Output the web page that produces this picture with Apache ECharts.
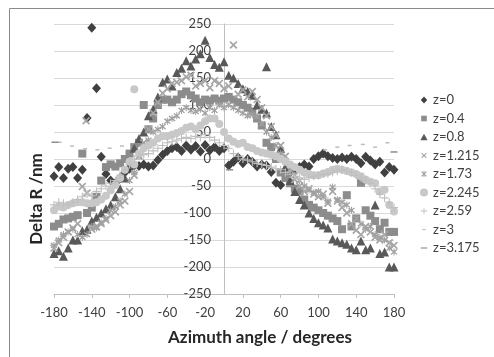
<!DOCTYPE html>
<html>
<head>
<meta charset="utf-8">
<script src="https://cdn.jsdelivr.net/npm/echarts@6/dist/echarts.min.js"></script>
<style>
html,body{margin:0;padding:0;background:#fff;}
#c{width:494px;height:357px;}
</style>
</head>
<body>
<div id="c"></div>
<script>
// Azimuth angles (degrees)
const angles = [-180,-175,-170,-165,-160,-155,-150,-145,-140,-135,-130,-125,-120,-115,-110,-105,-100,-95,-90,-85,-80,-75,-70,-65,-60,-55,-50,-45,-40,-35,-30,-25,-20,-15,-10,-5,0,5,10,15,20,25,30,35,40,45,50,55,60,65,70,75,80,85,90,95,100,105,110,115,120,125,130,135,140,145,150,155,160,165,170,175,180];

const z0 = [-32,-15,-35,-18,-15,-35,-20,76,243,131,4,-28,-40,-45,-35,-25,-18,-12,-13,-10,-14,-12,-2,8,15,20,22,15,25,17,24,14,26,16,22,15,20,-12,-5,3,-8,0,-5,-14,-10,-12,-24,-44,-48,-30,-25,-20,-15,-10,-14,0,5,10,5,2,0,3,0,4,0,-8,4,-3,-10,-5,-25,-15,-20];

const z04 = [-125,-120,-112,-110,-107,-104,10,-100,-90,-70,-40,-15,-10,-14,-8,0,10,22,30,100,55,75,100,110,110,105,110,120,125,118,112,105,110,108,112,108,112,115,110,105,100,95,88,75,62,30,22,0,-25,-35,-45,-55,-60,-75,-85,-90,-95,-100,-105,-110,-115,-130,-67,-125,-110,-44,-95,-105,-115,-130,-118,-135,-135];

const z08 = [-175,-170,-180,-165,-150,-150,-133,-130,-115,-108,-100,-92,-85,-70,-55,-35,-10,20,38,50,80,92,115,142,148,135,160,168,182,172,185,195,220,188,175,170,180,155,150,140,130,125,118,100,92,171,60,45,20,-15,-40,-60,-75,-85,-100,-110,-118,-122,-128,-148,-152,-155,-158,-165,-168,-152,-168,-165,-85,-175,-172,-200,-200];
const z08Extra = [[45, 85]];

const z1215 = [-165,-155,-145,-135,-128,-120,-51,-63,-130,-125,-120,-113,-105,-98,-85,-78,-60,-30,5,30,55,85,105,122,130,140,142,145,152,155,135,140,145,132,145,140,130,135,211,120,128,115,125,110,95,80,60,45,25,5,-20,-38,-50,-60,-55,-65,-70,-65,-82,-60,-78,-90,-100,-120,-132,-140,-125,-135,-145,-150,-140,-155,-160];
const z1215Extra = [[-146, 71]];

const z173 = [-160,-150,-140,-135,-130,-140,-145,-140,-125,-128,-118,-110,-95,-88,-78,-65,-40,-25,5,20,35,50,55,60,70,75,80,90,95,90,88,92,85,95,90,100,95,100,95,90,85,80,82,78,65,50,40,25,10,-5,-20,-30,-40,-50,-58,-62,-60,-70,-78,-52,-75,-80,-85,-95,-110,-120,-130,-125,-140,-145,-150,-165,-172];

const z2245 = [-95,-88,-90,-85,-82,-80,-80,-82,-82,-80,-75,-68,-58,-48,-35,-20,-5,129,10,20,25,30,38,42,42,45,48,52,58,60,55,62,70,75,75,65,50,38,32,28,30,22,20,15,12,10,8,5,0,-5,-10,-15,-20,-25,-28,-30,-30,-27,-24,-20,-18,-20,-22,-25,-28,-32,-38,-42,-45,-60,-57,-85,-97];
const z2245Extra = [[-95, -10]];

const z259 = [-85,-80,-82,-85,-80,-75,-70,-65,-68,-60,-55,-50,-45,-40,-30,-20,-10,0,5,8,10,15,20,25,30,32,35,38,40,38,42,40,45,40,35,30,25,20,10,5,0,-2,-5,-8,-10,-12,-15,-18,-20,-25,-28,-32,-35,-38,-35,-32,-30,-28,-28,-25,-22,-20,-22,-25,-30,-35,-40,-45,-55,-65,-72,-80,-90];

const z3X = [-174,-161,-147,-134,-121,-108,107,120,133,147,160,173];
const z3Y = [31,24,19,17,20,24,17,22,25,27,22,30];

const z3175X = [-179,6,180];
const z3175Y = [31,-20,13];

const seriesNames = ['z=0','z=0.4','z=0.8','z=1.215','z=1.73','z=2.245','z=2.59','z=3','z=3.175'];
const xTicks = {min:-180, max:180, step:40};
const yTicks = {min:-250, max:250, step:50};

function pts(vals, extra){
  const out = angles.map((a,i)=>[a, vals[i]]);
  return extra ? out.concat(extra) : out;
}
function pairs(xs, ys){ return xs.map((x,i)=>[x, ys[i]]); }

const X_PATH = 'path://M0,1.5L1.5,0L5,3.5L8.5,0L10,1.5L6.5,5L10,8.5L8.5,10L5,6.5L1.5,10L0,8.5L3.5,5Z';
const AST_PATH = 'path://M0,1.5L1.5,0L5,3.5L8.5,0L10,1.5L6.5,5L10,8.5L8.5,10L5,6.5L1.5,10L0,8.5L3.5,5ZM4.3,-1H5.7V11H4.3Z';
const PLUS_PATH = 'path://M4.3,0H5.7V4.3H10V5.7H5.7V10H4.3V5.7H0V4.3H4.3Z';
const pad = (s)=>'path://M0,0L0,0M10,10L10,10' + s;
const LEG = {
  'z=1.215': pad('M1.5,2.5L2.5,1.5L5,4L7.5,1.5L8.5,2.5L6,5L8.5,7.5L7.5,8.5L5,6L2.5,8.5L1.5,7.5L4,5Z'),
  'z=1.73': pad('M1.5,2.5L2.5,1.5L5,4L7.5,1.5L8.5,2.5L6,5L8.5,7.5L7.5,8.5L5,6L2.5,8.5L1.5,7.5L4,5ZM4.5,1H5.5V9H4.5Z'),
  'z=2.59': pad('M4.5,1H5.5V4.5H9V5.5H5.5V9H4.5V5.5H1V4.5H4.5Z'),
  'z=3': pad('M3,4.3H7V5.7H3Z'),
  'z=3.175': pad('M1,4.3H9V5.7H1Z'),
  'z=0': pad('M5,0.5L9,5L5,9.5L1,5Z'),
  'z=0.4': pad('M1.5,1.5H8.5V8.5H1.5Z'),
  'z=0.8': pad('M5,1L9.5,9H0.5Z'),
  'z=2.245': 'circle'
};

const styles = [
  {symbol:'diamond', size:[9,10], color:'#404040'},
  {symbol:'rect', size:8, color:'#8c8c8c'},
  {symbol:'triangle', size:9, color:'#595959'},
  {symbol:X_PATH, size:8, color:'#a6a6a6'},
  {symbol:AST_PATH, size:7, color:'#a0a0a0'},
  {symbol:'circle', size:8, color:'#c8c8c8'},
  {symbol:PLUS_PATH, size:8, color:'#bfbfbf'},
  {symbol:'rect', size:[4,1.5], color:'#bdbdbd'},
  {symbol:'rect', size:[7,1.5], color:'#8c8c8c'}
];
const datas = [
  pts(z0), pts(z04), pts(z08, z08Extra), pts(z1215, z1215Extra), pts(z173),
  pts(z2245, z2245Extra), pts(z259), pairs(z3X, z3Y), pairs(z3175X, z3175Y)
];

const chart = echarts.init(document.getElementById('c'), null, {renderer:'canvas'});
const FONT = 'Lato';
chart.setOption({
  animation:false,
  backgroundColor:'#fff',
  textStyle:{fontFamily:FONT},
  grid:{left:54, right:100, top:24, bottom:63},
  legend:{
    orient:'vertical', left:415, top:88, itemWidth:8, itemHeight:8, itemGap:4.5,
    textStyle:{fontFamily:FONT, fontSize:13, color:'#404040', lineHeight:14},
    data: seriesNames.map(n=>({name:n, icon:LEG[n]}))
  },
  xAxis:{
    type:'value', min:xTicks.min, max:xTicks.max, interval:xTicks.step,
    axisLine:{onZero:false, lineStyle:{color:'#bfbfbf'}},
    axisTick:{show:true, length:4, lineStyle:{color:'#bfbfbf'}},
    splitLine:{show:false},
    axisLabel:{fontFamily:FONT, fontSize:13, color:'#404040', margin:12}
  },
  yAxis:{
    type:'value', min:yTicks.min, max:yTicks.max, interval:yTicks.step,
    offset:-170,
    axisLine:{show:true, onZero:false, lineStyle:{color:'#bfbfbf'}},
    axisTick:{show:false},
    splitLine:{show:true, lineStyle:{color:'#d9d9d9'}},
    axisLabel:{fontFamily:FONT, fontSize:13, color:'#404040', margin:13}
  },
  graphic:[
    {type:'rect', shape:{x:9.5, y:8.5, width:600, height:600}, style:{fill:null, stroke:'#8a8a8a', lineWidth:1}, silent:true, z:-1},
    {type:'text', x:260, y:338, style:{text:'Azimuth angle / degrees', font:'bold 17px '+FONT, fill:'#262626', align:'center', verticalAlign:'middle'}},
    {type:'text', x:37, y:199, rotation:Math.PI/2, style:{text:'Delta R /nm', font:'bold 17px '+FONT, fill:'#262626', align:'center', verticalAlign:'middle'}}
  ],
  series: seriesNames.map((n,i)=>({
    name:n, type:'scatter', data:datas[i],
    symbol:styles[i].symbol, symbolSize:styles[i].size,
    itemStyle:{color:styles[i].color, opacity:1},
    emphasis:{disabled:true}
  }))
});
</script>
</body>
</html>
